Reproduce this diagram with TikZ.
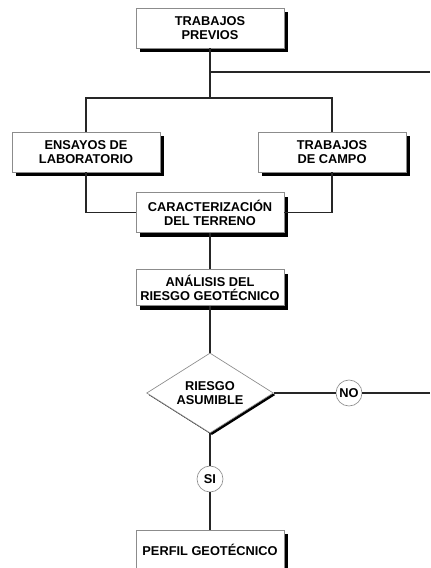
\documentclass[tikz,border=0pt]{standalone}
\usepackage{fontspec}
\setmainfont{Liberation Sans}
\usepackage{tikz}
\usetikzlibrary{shapes.geometric}
\usetikzlibrary{shadows}
\tikzset{
    x=0.75pt, y=-0.75pt,
    line/.style = {draw=black!85,line width=1pt},
    box font/.style = {font=\fontsize{9.6}{10.6}\selectfont\bfseries},
    work box/.style={shape=rectangle,draw=black!45,line width=0.5pt,fill=white,box font,align=center,
        minimum width=111pt,minimum height=30pt,inner sep=1pt,
        drop shadow={shadow xshift=3pt,shadow yshift=-3pt,opacity=1,fill=black}},
    decision/.style={shape=diamond,draw=black!45,line width=0.5pt,fill=white,box font,align=center,
        minimum width=95pt,minimum height=60pt,inner sep=0pt,aspect=1.575,
        drop shadow={shadow xshift=1.5pt,shadow yshift=-1.5pt,opacity=1,fill=black}},
    answer/.style={shape=circle,draw=black!45,line width=0.5pt,fill=white,box font,
        minimum size=19.5pt,inner sep=0pt}
}
\begin{document}
\begin{tikzpicture}
    \useasboundingbox[fill=white] (0,0) rectangle (430,568);
    \node(prev)[work box] at (210,28) {TRABAJOS\\PREVIOS};
    \node(lab)[work box] at (86,152) {ENSAYOS DE\\LABORATORIO};
    \node(campo)[work box] at (332,152) {TRABAJOS\\DE CAMPO};
    \node(terreno)[work box] at (210,212.5) {CARACTERIZACIÓN\\DEL TERRENO};
    \node(riesgo)[work box,minimum height=27pt] at (210,287.5) {ANÁLISIS DEL\\RIESGO GEOTÉCNICO};
    \node(asumible)[decision] at (210,393) {RIESGO\\ASUMIBLE};
    \node(no)[answer] at (349,393) {NO};
    \node(si)[answer] at (210,479) {SI};
    \node(perfil)[work box] at (210,550) {PERFIL GEOTÉCNICO};
    \coordinate(tap) at (210,72);
    \coordinate(fork) at (210,98);
    \coordinate(out-a) at (430,72);
    \coordinate(out-b) at (430,393);
    % connectors
    \draw[line] (prev) -- (fork);
    \draw[line] (tap) -- (out-a);
    \draw[line] (fork) -| (lab);
    \draw[line] (fork) -| (campo);
    \draw[line] (lab) |- (terreno);
    \draw[line] (campo) |- (terreno);
    \draw[line] (terreno) -- (riesgo);
    \draw[line] (riesgo) -- (asumible);
    \draw[line] (asumible) -- (no) -- (out-b);
    \draw[line] (asumible) -- (si) -- (perfil);
\end{tikzpicture}
\end{document}
